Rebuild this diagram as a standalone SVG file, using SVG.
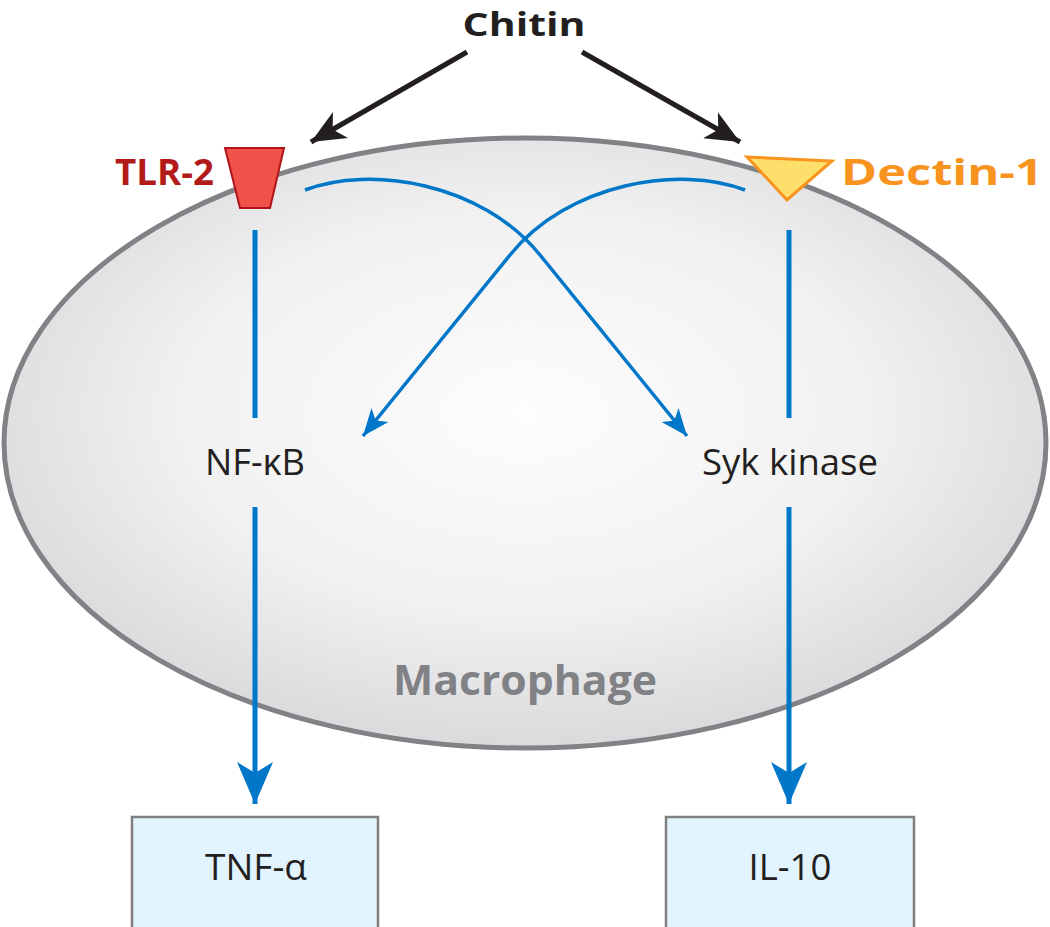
<svg xmlns="http://www.w3.org/2000/svg" width="1050" height="927" viewBox="0 0 1050 927">
<defs>
<radialGradient id="cellFill" cx="50%" cy="45%" r="55%">
<stop offset="0" stop-color="#fdfdfd"/>
<stop offset="0.6" stop-color="#f1f1f2"/>
<stop offset="1" stop-color="#dadadc"/>
</radialGradient>
<marker id="bigBlue" markerUnits="userSpaceOnUse" markerWidth="42" markerHeight="36" refX="42" refY="18" orient="auto" viewBox="0 0 42 36">
<path d="M0,0 L42,18 L0,36 L11,18 Z" fill="#0077c8"/>
</marker>
<marker id="smallBlue" markerUnits="userSpaceOnUse" markerWidth="27" markerHeight="22" refX="27" refY="11" orient="auto" viewBox="0 0 27 22">
<path d="M0,0 L27,11 L0,22 L7,11 Z" fill="#0077c8"/>
</marker>
<marker id="blackHead" markerUnits="userSpaceOnUse" markerWidth="34" markerHeight="30" refX="34" refY="15" orient="auto" viewBox="0 0 34 30">
<path d="M0,0 L34,15 L0,30 L9,15 Z" fill="#231f20"/>
</marker>
</defs>
<style>
.lbl{font-family:"Open Sans","Liberation Sans",sans-serif;}
.bold{font-weight:bold;}
.inner{font-size:36px;fill:#231f20;}
.box{fill:#e1f3fc;stroke:#808080;stroke-width:2.5;}
.blueV{stroke:#0077c8;stroke-width:5;fill:none;}
.blueC{stroke:#0077c8;stroke-width:3.5;fill:none;}
.black{stroke:#231f20;stroke-width:5;fill:none;}
</style>

<g id="macrophage">
<ellipse cx="525" cy="443" rx="521" ry="305" fill="url(#cellFill)" stroke="#808285" stroke-width="5"/>
<text class="lbl bold" x="525" y="695" text-anchor="middle" font-size="42" fill="#808285" textLength="264" lengthAdjust="spacingAndGlyphs">Macrophage</text>
</g>

<g id="chitin">
<text class="lbl bold" x="524" y="36" text-anchor="middle" font-size="33" fill="#231f20" textLength="123" lengthAdjust="spacingAndGlyphs">Chitin</text>
</g>

<g id="tlr2">
<polygon points="225,148 284,148 270,208 240,208" fill="#ef5249" stroke="#b0141a" stroke-width="2"/>
<text class="lbl bold" x="115" y="185" font-size="35" fill="#b31b1b" textLength="99" lengthAdjust="spacingAndGlyphs">TLR-2</text>
</g>

<g id="dectin1">
<polygon points="747,157 832,161 787,200" fill="#ffdf6b" stroke="#f7931e" stroke-width="3" stroke-linejoin="miter"/>
<text class="lbl bold" x="841" y="185" font-size="35" fill="#f7931e" textLength="202" lengthAdjust="spacingAndGlyphs">Dectin-1</text>
</g>

<g id="nfkb">
<text class="lbl inner" x="255" y="475" text-anchor="middle" textLength="100" lengthAdjust="spacingAndGlyphs">NF-κB</text>
</g>

<g id="syk">
<text class="lbl inner" x="790" y="475" text-anchor="middle" textLength="176" lengthAdjust="spacingAndGlyphs">Syk kinase</text>
</g>

<g id="tnf">
<rect class="box" x="132" y="817" width="246" height="112"/>
<text class="lbl inner" x="256" y="880" text-anchor="middle" textLength="102" lengthAdjust="spacingAndGlyphs">TNF-α</text>
</g>

<g id="il10">
<rect class="box" x="666" y="817" width="248" height="112"/>
<text class="lbl inner" x="790" y="880" text-anchor="middle" textLength="83" lengthAdjust="spacingAndGlyphs">IL-10</text>
</g>

<g id="connectors">
<line class="black" x1="467" y1="52" x2="311" y2="142" marker-end="url(#blackHead)"/>
<line class="black" x1="582" y1="52" x2="740" y2="142" marker-end="url(#blackHead)"/>
<line class="blueV" x1="255" y1="230" x2="255" y2="418"/>
<line class="blueV" x1="789" y1="230" x2="789" y2="418"/>
<line class="blueV" x1="255" y1="507" x2="255" y2="804" marker-end="url(#bigBlue)"/>
<line class="blueV" x1="789" y1="507" x2="789" y2="804" marker-end="url(#bigBlue)"/>
<path class="blueC" d="M305,190 C370,165 481.6,182.6 540,255 L687,436" marker-end="url(#smallBlue)"/>
<path class="blueC" d="M745,190 C680,165 568.4,182.6 510,255 L363,436" marker-end="url(#smallBlue)"/>
</g>
</svg>
